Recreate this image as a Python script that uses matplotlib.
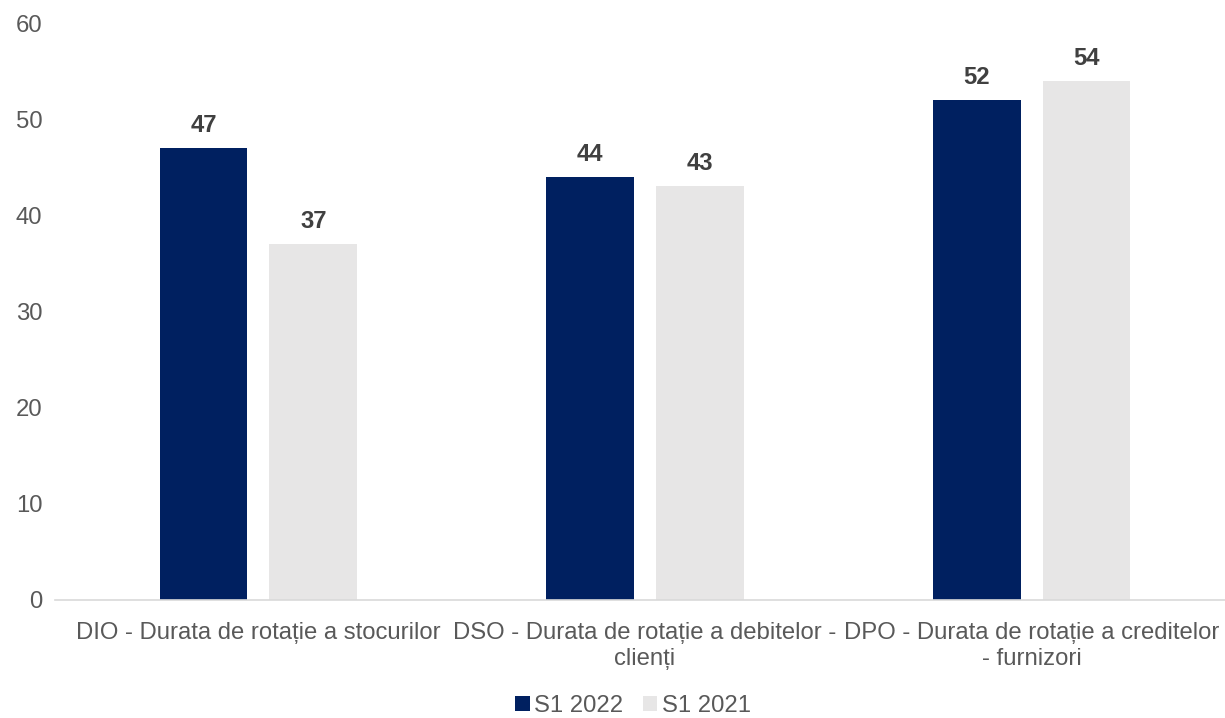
import matplotlib
matplotlib.use("Agg")
import matplotlib.pyplot as plt
import numpy as np

plt.rcParams['font.family'] = ['Liberation Sans', 'DejaVu Sans']

categories = ["DIO - Durata de rotație a stocurilor",
              "DSO - Durata de rotație a debitelor -\nclienți",
              "DPO - Durata de rotație a creditelor\n- furnizori"]
series_names = ["S1 2022", "S1 2021"]
s2022 = [47, 44, 52]
s2021 = [37, 43, 54]
colors = ["#002060", "#E7E6E6"]

FS = 17.2
fig = plt.figure(figsize=(12.25, 7.18), dpi=100)
ax = fig.add_axes([55/1225, 118/718, 1170/1225, 577/718])

x = np.arange(len(categories))
w = 0.227
off = 0.142
b1 = ax.bar(x - off, s2022, w, color=colors[0], label=series_names[0])
b2 = ax.bar(x + off, s2021, w, color=colors[1], label=series_names[1])
for bars in (b1, b2):
    for r in bars:
        ax.annotate(f"{int(r.get_height())}", (r.get_x() + r.get_width()/2, r.get_height()),
                    xytext=(0, 8), textcoords="offset points", ha="center", va="bottom",
                    fontsize=FS, fontweight="bold", color="#404040")

ax.set_ylim(0, 60)
ax.set_xlim(-0.5 - 10/387.5, 2.5)
ax.set_yticks(range(0, 61, 10))
ax.set_xticks(x)
ax.set_xticklabels(categories, fontsize=FS, color="#595959", linespacing=1.2)
ax.tick_params(axis='y', labelsize=FS, labelcolor="#595959", length=0, pad=9)
ax.tick_params(axis='x', length=0, pad=16)
for s in ["top", "right", "left"]:
    ax.spines[s].set_visible(False)
ax.spines["bottom"].set_color("#D9D9D9")
ax.spines["bottom"].set_linewidth(1.2)

leg = fig.legend(handles=[b1, b2], labels=series_names, loc="center", bbox_to_anchor=(633/1225, 1 - 706/718),
                 ncol=2, frameon=False, fontsize=FS, handlelength=0.6, handleheight=0.6,
                 handletextpad=0.2, columnspacing=0.8)
for t in leg.get_texts():
    t.set_color("#595959")

fig.savefig("out.png", dpi=100)
